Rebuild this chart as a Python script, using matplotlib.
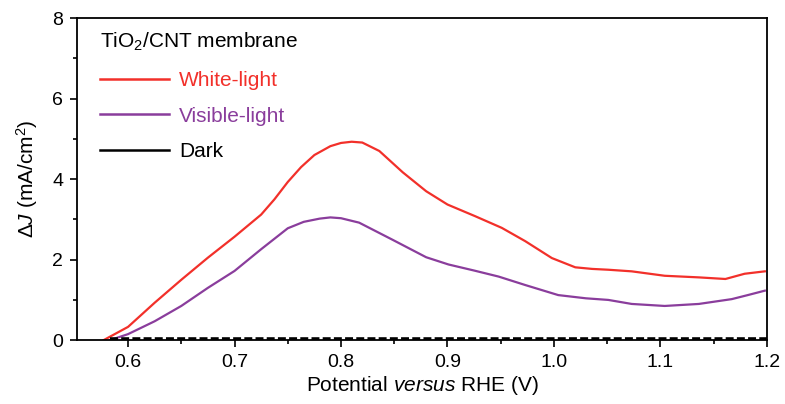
import matplotlib
matplotlib.use("Agg")
import matplotlib.pyplot as plt
from matplotlib.lines import Line2D
from matplotlib.ticker import MultipleLocator

plt.rcParams['font.family'] = ['Liberation Sans', 'DejaVu Sans']
plt.rcParams['mathtext.fontset'] = 'custom'
plt.rcParams['mathtext.rm'] = 'Liberation Sans'
plt.rcParams['mathtext.it'] = 'Liberation Sans:italic'
plt.rcParams['mathtext.bf'] = 'Liberation Sans:bold'

# Data
white_x = [0.577, 0.6, 0.625, 0.65, 0.675, 0.7, 0.725, 0.7375, 0.75, 0.7625, 0.775,
           0.79, 0.8, 0.81, 0.82, 0.836, 0.858, 0.88, 0.9, 0.926, 0.951, 0.973, 0.998,
           1.02, 1.036, 1.051, 1.073, 1.104, 1.136, 1.161, 1.179, 1.198]
white_y = [0.0, 0.33, 0.93, 1.5, 2.05, 2.57, 3.12, 3.5, 3.93, 4.3, 4.6,
           4.82, 4.9, 4.93, 4.91, 4.7, 4.17, 3.7, 3.37, 3.08, 2.79, 2.46, 2.04,
           1.81, 1.77, 1.75, 1.71, 1.6, 1.56, 1.52, 1.65, 1.71]

vis_x = [0.583, 0.6, 0.625, 0.65, 0.675, 0.7, 0.725, 0.75, 0.765, 0.78, 0.79, 0.8,
         0.817, 0.848, 0.88, 0.901, 0.925, 0.948, 0.973, 1.004, 1.03, 1.051, 1.073,
         1.104, 1.136, 1.167, 1.182, 1.198]
vis_y = [0.0, 0.15, 0.47, 0.85, 1.3, 1.72, 2.26, 2.78, 2.94, 3.02, 3.05, 3.03,
         2.92, 2.5, 2.06, 1.88, 1.73, 1.58, 1.37, 1.12, 1.04, 1.0, 0.9,
         0.85, 0.9, 1.02, 1.12, 1.23]

dark_x = [0.583, 1.2]
dark_y = [0.03, 0.03]

x_ticks = [0.6, 0.7, 0.8, 0.9, 1.0, 1.1, 1.2]
x_ticklabels = ['0.6', '0.7', '0.8', '0.9', '1.0', '1.1', '1.2']
y_ticks = [0, 2, 4, 6, 8]

series_labels = ['White-light', 'Visible-light', 'Dark']
red = '#f2302a'
purple = '#8a3d9c'

fig = plt.figure(figsize=(7.85, 4.04), dpi=100)
ax = fig.add_axes([0.098, 0.158, 0.879, 0.797])

ax.plot(white_x, white_y, color=red, lw=1.6)
ax.plot(vis_x, vis_y, color=purple, lw=1.6)
ax.plot(dark_x, dark_y, color='black', lw=2.6, ls=(0, (2.2, 0.9)))

ax.set_xlim(0.552, 1.2)
ax.set_ylim(0, 8)
ax.set_xticks(x_ticks)
ax.set_xticklabels(x_ticklabels)
ax.set_yticks(y_ticks)
ax.xaxis.set_minor_locator(MultipleLocator(0.05))
ax.yaxis.set_minor_locator(MultipleLocator(1))
ax.tick_params(which='major', direction='out', length=5, width=1.2, labelsize=14, pad=5)
ax.tick_params(which='minor', direction='out', length=3, width=1.2)
for s in ax.spines.values():
    s.set_linewidth(1.3)

ax.set_xlabel(r'Potential $\mathit{versus}$ RHE (V)', fontsize=15, labelpad=2)
ax.set_ylabel(r'$\Delta$$\mathit{J}$ (mA/cm$^2$)', fontsize=15, labelpad=9)

ax.text(0.033, 0.925, r'TiO$_2$/CNT membrane', transform=ax.transAxes,
        fontsize=15, ha='left', va='center')

handles = [Line2D([], [], color=red, lw=1.8),
           Line2D([], [], color=purple, lw=1.8),
           Line2D([], [], color='black', lw=1.8)]
leg = ax.legend(handles, series_labels, loc='upper left',
                bbox_to_anchor=(0.033, 0.835), frameon=False, fontsize=15,
                handlelength=3.35, handletextpad=0.45,
                labelspacing=0.79, borderaxespad=0, borderpad=0)
for t, c in zip(leg.get_texts(), [red, purple, 'black']):
    t.set_color(c)

fig.savefig('out.png', dpi=100)
